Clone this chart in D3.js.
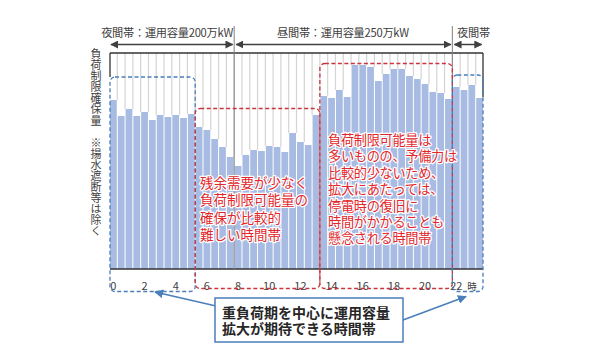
<!DOCTYPE html>
<html><head><meta charset="utf-8">
<script src="https://cdn.jsdelivr.net/npm/d3@7"></script>
<style>body{margin:0;background:#fff;} svg{display:block;font-family:"Noto Sans CJK JP","Noto Sans",sans-serif;}</style>
</head><body><svg id="c" width="590" height="353"></svg>
<script>
// half-hour slots 0..47 (0:00 - 23:30)
const slots = d3.range(48);
const values = [169,153,160,153,157,149,154,152,154,151,155,142,139,130,122,112,103,114,119,118,123,122,117,136,127,124,154,173,171,179,172,204,204,202,188,195,200,200,193,190,185,177,176,170,182,179,184,171];
const hourTicks = [0,2,4,6,8,10,12,14,16,18,20,22];
const periodLabels = ["夜間帯：運用容量200万kW","昼間帯：運用容量250万kW","夜間帯"];
const periodFrom = [0,16,44];
const periodTo = [16,44,48];
const yLabel = "負荷制限確保量\u3000※揚水遮断等は除く";
const boxFrom = [0,11,27,44];
const boxTo = [11,27,44,48];
const boxTop = [192,160.5,205.5,194];
const boxKind = ["blue","red","red","blue"];
const note1 = ["残余需要が少なく","負荷制限可能量の","確保が比較的","難しい時間帯"];
const note2 = ["負荷制限可能量は","多いものの、予備力は","比較的少ないため、","拡大にあたっては、","停電時の復旧に","時間がかかることも","懸念される時間帯"];
const callout = ["重負荷期を中心に運用容量","拡大が期待できる時間帯"];

const svg = d3.select("#c");
const L=110, R=483, T=53, B=269;
const x = d3.scaleBand().domain(slots).range([L,R]).paddingInner(0.13).paddingOuter(0);
const step = x.step(), bw = x.bandwidth(), gap = step-bw;
const y = d3.scaleLinear().domain([0,216]).range([B,T]);
const bound = i => i===0 ? L : (i>=48 ? R : x(i)-gap/2);
const blue="#4a7ebb", red="#c9353f";

const defs = svg.append("defs");
function marker(id,color,size){
  defs.append("marker").attr("id",id).attr("viewBox","0 0 10 10").attr("refX",9).attr("refY",5)
   .attr("markerWidth",size).attr("markerHeight",size).attr("orient","auto-start-reverse")
   .attr("markerUnits","userSpaceOnUse")
   .append("path").attr("d","M0,0L10,5L0,10Z").attr("fill",color);
}
marker("ah","#404040",8);
marker("ab",blue,9);

// gray separators above bars
svg.append("g").selectAll("line").data(slots.slice(1)).join("line")
  .attr("x1",i=>bound(i)).attr("x2",i=>bound(i))
  .attr("y1",T).attr("y2",i=>Math.min(y(values[i-1]),y(values[i])))
  .attr("stroke","#d4d4d4").attr("stroke-width",1.2);

// bars
svg.append("g").selectAll("rect").data(slots).join("rect")
  .attr("x",i=>x(i)).attr("width",bw)
  .attr("y",i=>y(values[i])).attr("height",i=>B-y(values[i]))
  .attr("fill","#a7bbe3");

// frame
svg.append("line").attr("x1",L).attr("x2",R).attr("y1",T).attr("y2",T).attr("stroke","#333").attr("stroke-width",1.3);
svg.append("line").attr("x1",L).attr("x2",L).attr("y1",T).attr("y2",y(boxTop[0])).attr("stroke","#333").attr("stroke-width",1.3);
svg.append("line").attr("x1",R).attr("x2",R).attr("y1",T).attr("y2",97).attr("stroke","#333").attr("stroke-width",1.3);
svg.append("line").attr("x1",L).attr("x2",R).attr("y1",B).attr("y2",B).attr("stroke","#333").attr("stroke-width",1.3);

// period separators
[16,44].forEach(i=>{
  svg.append("line").attr("x1",bound(i)).attr("x2",bound(i)).attr("y1",26).attr("y2",B)
    .attr("stroke","#808080").attr("stroke-width",1);
});

// period arrows and labels
periodLabels.forEach((lab,k)=>{
  const a = bound(periodFrom[k]) + (k===0?1:2), b = bound(periodTo[k]) - 1.5;
  svg.append("line").attr("x1",a).attr("x2",b).attr("y1",44.5).attr("y2",44.5)
    .attr("stroke","#404040").attr("stroke-width",1.5)
    .attr("marker-start","url(#ah)").attr("marker-end","url(#ah)");
});
const hdr = (t,xx,anchor)=>svg.append("text").attr("x",xx).attr("y",37).attr("text-anchor",anchor)
  .attr("font-size",11.2).attr("letter-spacing",-0.25).attr("fill","#404040").text(t);
hdr(periodLabels[0],233,"end");
hdr(periodLabels[1],277,"start");
hdr(periodLabels[2],457,"start");

// y label (vertical)
svg.append("text").attr("x",96).attr("y",48.5)
  .style("writing-mode","vertical-rl").attr("writing-mode","tb")
  .attr("font-size",11).attr("letter-spacing",0.06).attr("fill","#404040").text(yLabel);

// x tick labels
svg.append("g").selectAll("text").data(hourTicks).join("text")
  .attr("x",h=>x(h*2)+bw/2).attr("y",290).attr("text-anchor","middle")
  .attr("font-size",11).attr("fill","#404040").text(h=>h);
svg.append("text").attr("x",472).attr("y",290).attr("text-anchor","middle").attr("font-size",9.5).attr("fill","#404040").text("時");

// dashed boxes
boxFrom.forEach((f,k)=>{
  const x0=bound(f), x1=bound(boxTo[k]);
  const y0=y(boxTop[k]), y1 = boxKind[k]==="blue"?291.5:288.5;
  svg.append("rect").attr("x",x0).attr("y",y0).attr("width",x1-x0).attr("height",y1-y0)
    .attr("rx",5).attr("fill","none").attr("stroke",boxKind[k]==="blue"?blue:red)
    .attr("stroke-width",1.3).attr("stroke-dasharray","4,2.5");
});

// multi-line text block as one text element
function block(lines,x0,y0,lh,fs){
  const t = svg.append("text").attr("x",x0).attr("y",y0).attr("font-size",fs);
  t.selectAll("tspan").data(lines).join("tspan")
    .attr("x",x0).attr("dy",(d,k)=>k===0?0:lh).text(d=>d);
  return t;
}
function note(lines,x0,y0,lh,fs){
  return block(lines,x0,y0,lh,fs)
    .attr("fill","#e3262b").attr("stroke","#fff").attr("stroke-width",2.5)
    .attr("paint-order","stroke").attr("stroke-linejoin","round");
}
note(note1,200,188,17.3,13.5);
note(note2,328,145,16.4,13.2).attr("letter-spacing",-0.3);

// callout
svg.append("line").attr("x1",216).attr("y1",306).attr("x2",155).attr("y2",292)
  .attr("stroke",blue).attr("stroke-width",1.5).attr("marker-end","url(#ab)");
svg.append("line").attr("x1",403).attr("y1",320).attr("x2",466).attr("y2",296.5)
  .attr("stroke",blue).attr("stroke-width",1.5).attr("marker-end","url(#ab)");
svg.append("rect").attr("x",215).attr("y",298).attr("width",188).attr("height",44)
  .attr("fill","#fff").attr("stroke",blue).attr("stroke-width",1.5);
block(callout,222,318,16,14).attr("font-weight","bold").attr("fill","#262626");
</script></body></html>
